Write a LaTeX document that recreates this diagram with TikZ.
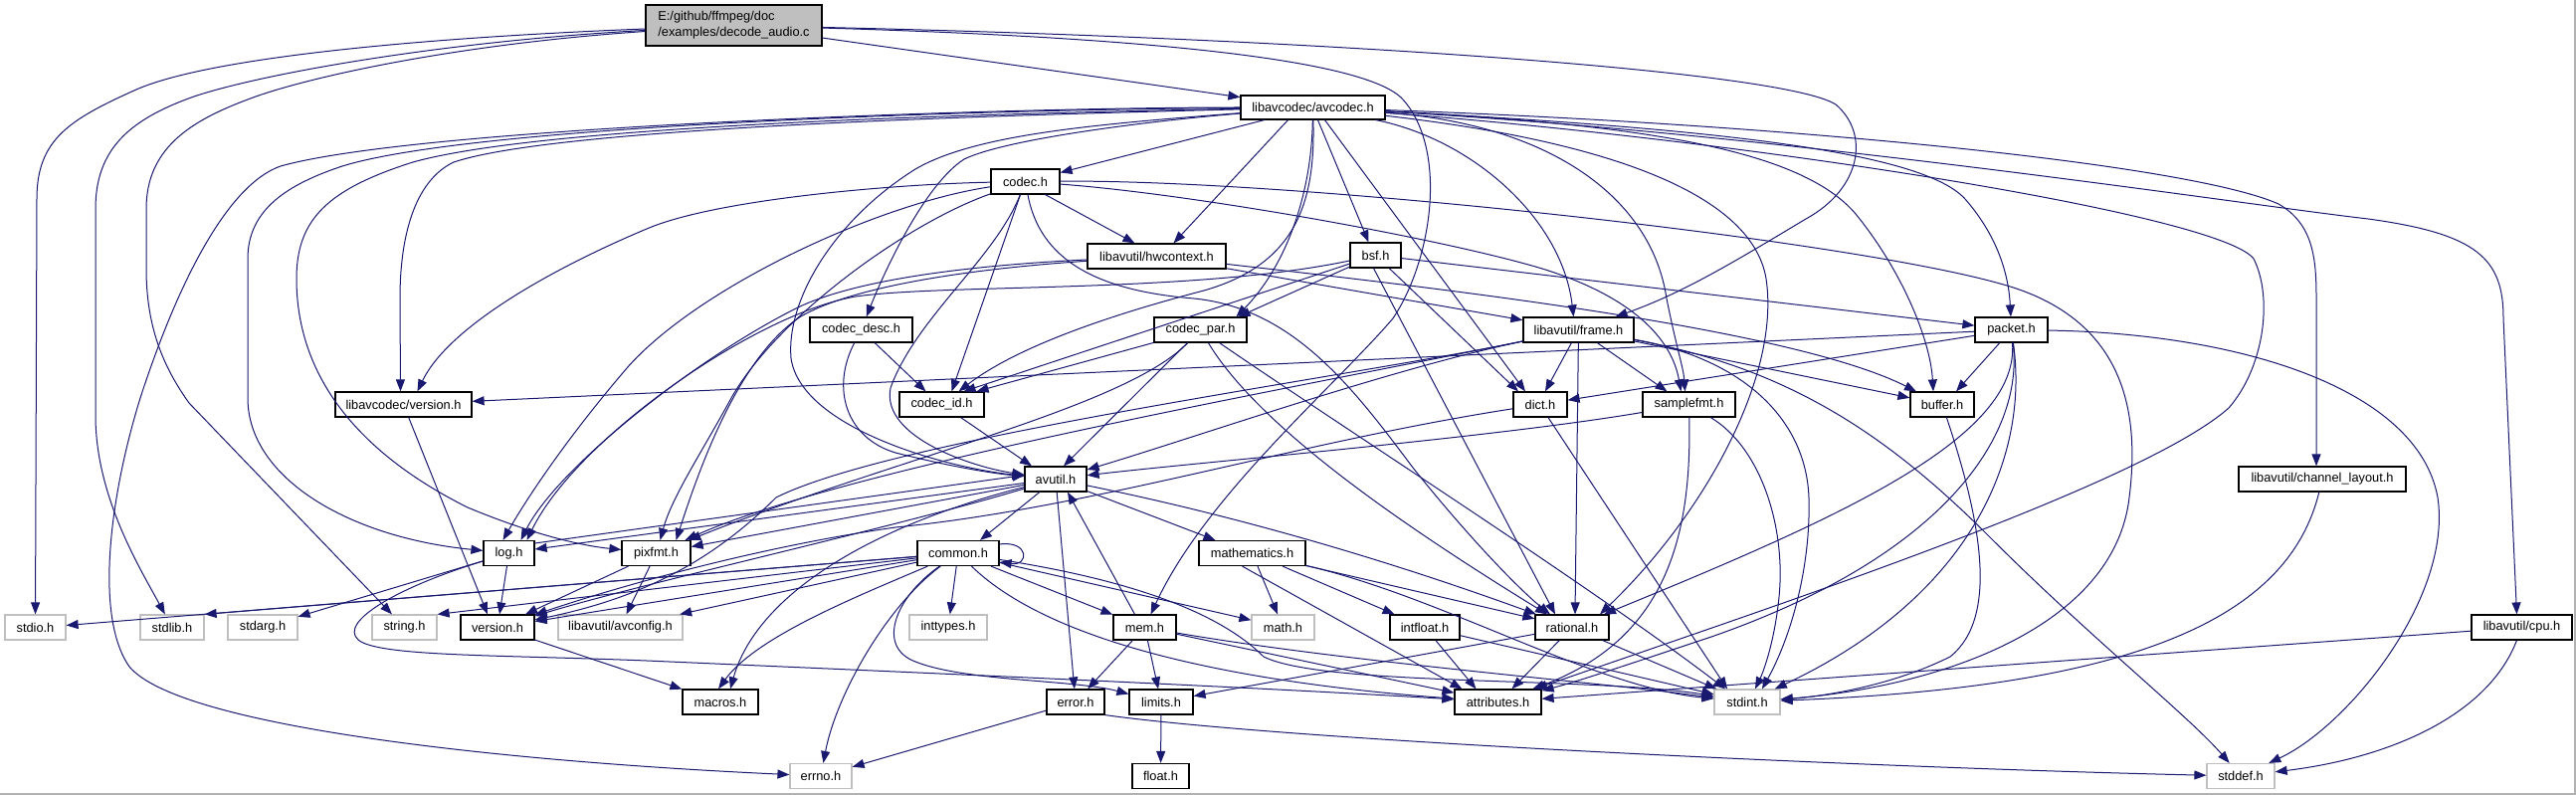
\documentclass[tikz,border=0pt]{standalone}
\usepackage{fontspec}
\setmainfont{Liberation Sans}
\usetikzlibrary{arrows.meta}
\definecolor{edgec}{HTML}{191970}
\definecolor{boxgray}{HTML}{BFBFBF}
\newcommand\lblfont{\fontsize{12.8pt}{16pt}\selectfont}
\begin{document}
\begin{tikzpicture}[x=1pt,y=-1pt,
  nb/.style={draw=black, fill=white, line width=1.2pt, inner sep=0pt, minimum height=25pt, font=\lblfont, text=black},
  ng/.style={nb, draw=boxgray},
  edg/.style={draw=edgec, line width=1pt, -{Triangle[length=12pt,width=9pt]}}]
\useasboundingbox (0,0) rectangle (2589,799);
\fill[white] (0,0) rectangle (2589,799);
\draw[color=black!30, line width=1.5pt] (0,798.2) -- (2588.2,798.2) -- (2588.2,0);

% nodes
\node[nb, fill=boxgray, minimum width=177pt, minimum height=41pt, align=left] (D) at (737.5,25.5) {E:/github/ffmpeg/doc\\/examples/decode\_audio.c};
\node[nb, minimum width=145pt, minimum height=24pt] (AC) at (1319.5,108) {libavcodec/avcodec.h};
\node[nb, minimum width=69pt] (codec) at (1030.5,182.5) {codec.h};
\node[nb, minimum width=139pt] (hwctx) at (1162.5,257.5) {libavutil/hwcontext.h};
\node[nb, minimum width=51pt] (bsf) at (1382.5,256.5) {bsf.h};
\node[nb, minimum width=103pt] (cdesc) at (865.5,331.5) {codec\_desc.h};
\node[nb, minimum width=93pt] (cpar) at (1206.5,331.5) {codec\_par.h};
\node[nb, minimum width=111pt] (frame) at (1586.5,331.5) {libavutil/frame.h};
\node[nb, minimum width=73pt] (packet) at (2021.5,331.5) {packet.h};
\node[nb, minimum width=137pt] (lavcver) at (405.5,406.5) {libavcodec/version.h};
\node[nb, minimum width=85pt] (cid) at (946.5,406.5) {codec\_id.h};
\node[nb, minimum width=54pt] (dict) at (1548,406.5) {dict.h};
\node[nb, minimum width=93pt] (sfmt) at (1697.5,406.5) {samplefmt.h};
\node[nb, minimum width=64pt] (buffer) at (1952,406.5) {buffer.h};
\node[nb, minimum width=62pt] (avutil) at (1061,481.5) {avutil.h};
\node[nb, minimum width=168pt] (chlay) at (2334,481.5) {libavutil/channel\_layout.h};
\node[nb, minimum width=51pt] (log) at (511.5,556) {log.h};
\node[nb, minimum width=69pt] (pixfmt) at (659.5,556) {pixfmt.h};
\node[nb, minimum width=82pt] (common) at (963,556) {common.h};
\node[nb, minimum width=107pt] (mathem) at (1258.5,556) {mathematics.h};
\node[ng, minimum width=61pt] (stdio) at (35.5,630.5) {stdio.h};
\node[ng, minimum width=64pt] (stdlib) at (173,630.5) {stdlib.h};
\node[ng, minimum width=70pt] (stdarg) at (264,630.5) {stdarg.h};
\node[ng, minimum width=65pt] (string) at (406.5,630.5) {string.h};
\node[nb, minimum width=74pt] (version) at (500,630.5) {version.h};
\node[ng, minimum width=125pt] (avconfig) at (623.5,630.5) {libavutil/avconfig.h};
\node[ng, minimum width=78pt] (inttypes) at (953,630.5) {inttypes.h};
\node[nb, minimum width=63pt] (mem) at (1150.5,630.5) {mem.h};
\node[ng, minimum width=63pt] (mathh) at (1289.5,630.5) {math.h};
\node[nb, minimum width=70pt] (intfloat) at (1432,630.5) {intfloat.h};
\node[nb, minimum width=74pt] (rational) at (1580,630.5) {rational.h};
\node[nb, minimum width=101pt] (cpu) at (2534.5,630.5) {libavutil/cpu.h};
\node[nb, minimum width=76pt] (macros) at (724,705.5) {macros.h};
\node[nb, minimum width=58pt] (error) at (1081,705.5) {error.h};
\node[nb, minimum width=64pt] (limits) at (1167,705.5) {limits.h};
\node[nb, minimum width=87pt] (attrib) at (1505.5,705.5) {attributes.h};
\node[ng, minimum width=66pt] (stdint) at (1756,705.5) {stdint.h};
\node[ng, minimum width=62pt] (errno) at (825,780) {errno.h};
\node[nb, minimum width=57pt] (floath) at (1166.5,780) {float.h};
\node[ng, minimum width=68pt] (stddef) at (2252,780) {stddef.h};

% decode_audio.c
\draw[edg] (D) .. controls (420,38) and (210,58) .. (137,90) .. controls (70,120) and (37,140) .. (37,200) -- (stdio);
\draw[edg] (D) .. controls (440,42) and (260,75) .. (195,97) .. controls (130,120) and (96,150) .. (96,210) -- (96,420) .. controls (97,500) and (140,570) .. (stdlib);
\draw[edg] (D) .. controls (450,45) and (300,80) .. (249,100) .. controls (190,122) and (147,150) .. (147,210) -- (147,270) .. controls (147,330) and (165,370) .. (190,405) -- (string);
\draw[edg] (D) -- (AC);
\draw[edg] (D) .. controls (1100,36) and (1370,55) .. (1410,100) .. controls (1455,150) and (1440,260) .. (1400,320) .. controls (1340,390) and (1212,498) .. (mem);
\draw[edg] (D) .. controls (1300,38) and (1790,70) .. (1845,105) .. controls (1880,135) and (1870,190) .. (1815,220) .. controls (1740,265) and (1690,295) .. (frame);

% avcodec.h
\draw[edg] (AC) -- (codec);
\draw[edg] ([xshift=-25]AC.south) -- ([xshift=17]hwctx.north);
\draw[edg] ([xshift=5]AC.south) -- ([xshift=-7]bsf.north);
\draw[edg] (AC) .. controls (1150,122) and (1010,140) .. (969,160) .. controls (930,185) and (890,270) .. (cdesc);
\draw[edg] (AC) .. controls (1100,125) and (980,135) .. (920,170) .. controls (840,220) and (790,300) .. (795,360) .. controls (805,430) and (950,470) .. (avutil);
\draw[edg] (AC) .. controls (1318,200) and (1290,270) .. ([xshift=36]cpar.north);
\draw[edg] (AC) .. controls (1322,200) and (1305,265) .. (1210,292) .. controls (1110,318) and (1020,350) .. (cid);
\draw[edg] (AC) .. controls (1480,140) and (1570,220) .. ([xshift=-5]frame.north);
\draw[edg] ([xshift=12]AC.south) -- ([xshift=-15]dict.north);
\draw[edg] (AC) .. controls (1560,125) and (1660,200) .. (1675,300) .. controls (1685,350) and (1692,370) .. ([xshift=-4]sfmt.north);
\draw[edg] (AC) .. controls (1650,125) and (1810,150) .. (1865,215) .. controls (1910,270) and (1940,340) .. ([xshift=-9]buffer.north);
\draw[edg] (AC) .. controls (1700,128) and (1930,150) .. (1975,200) .. controls (2010,240) and (2019,280) .. (packet);
\draw[edg] (AC) .. controls (1800,125) and (2200,165) .. (2290,205) .. controls (2325,225) and (2328,260) .. (2328,300) -- ([xshift=-6]chlay.north);
\draw[edg] (AC) .. controls (1800,135) and (2250,205) .. (2380,220) .. controls (2490,235) and (2516,260) .. (2516,320) -- ([xshift=-5]cpu.north);
\draw[edg] (AC) .. controls (1750,140) and (2230,215) .. (2265,260) .. controls (2285,300) and (2275,370) .. (2240,410) .. controls (2150,490) and (1750,620) .. (attrib);
\draw[edg] (AC) .. controls (1600,140) and (1760,190) .. (1775,280) .. controls (1790,380) and (1710,520) .. ([xshift=28]rational.north);
\draw[edg] (AC) .. controls (1000,110) and (480,125) .. (344,167) .. controls (290,185) and (249,210) .. (249,260) -- (249,400) .. controls (249,480) and (350,540) .. (log);
\draw[edg] (AC) .. controls (1000,114) and (550,125) .. (415,163) .. controls (330,190) and (298,220) .. (298,280) .. controls (298,370) and (350,450) .. (470,510) .. controls (530,535) and (580,548) .. (pixfmt);
\draw[edg] (AC) .. controls (1000,116) and (560,128) .. (456,163) .. controls (420,180) and (402,230) .. (402,300) -- ([xshift=-3]lavcver.north);
\draw[edg] (AC) .. controls (1000,108) and (420,128) .. (282,167) .. controls (230,185) and (180,280) .. (141,400) .. controls (110,500) and (95,620) .. (130,670) .. controls (180,730) and (500,765) .. (errno);

% codec.h
\draw[edg] ([xshift=20]codec.south) -- ([xshift=-22]hwctx.north);
\draw[edg] ([xshift=-5]codec.south) -- ([xshift=10]cid.north);
\draw[edg] (codec) .. controls (1000,260) and (920,320) .. (895,390) .. controls (885,440) and (980,470) .. (avutil);
\draw[edg] (codec) .. controls (900,185) and (720,200) .. (650,230) .. controls (550,272) and (450,330) .. ([xshift=14]lavcver.north);
\draw[edg] (codec) .. controls (880,205) and (700,290) .. (630,370) .. controls (570,440) and (530,500) .. ([xshift=-6]log.north);
\draw[edg] (codec) .. controls (910,225) and (780,320) .. (735,400) .. controls (705,455) and (675,500) .. ([xshift=4]pixfmt.north);
\draw[edg] (codec) .. controls (1045,260) and (1100,292) .. (1200,300) .. controls (1300,310) and (1360,390) .. (1420,470) .. controls (1480,545) and (1530,595) .. ([xshift=-22]rational.north);
\draw[edg] (codec) .. controls (1200,195) and (1450,240) .. (1550,270) .. controls (1640,298) and (1680,340) .. ([xshift=-8]sfmt.north);
\draw[edg] (codec) .. controls (1300,180) and (1850,240) .. (2010,285) .. controls (2140,320) and (2150,420) .. (2140,500) .. controls (2125,630) and (1950,690) .. (stdint);

% hwcontext.h
\draw[edg] (hwctx) -- (frame);
\draw[edg] (hwctx) .. controls (1450,290) and (1800,330) .. (buffer);
\draw[edg] (hwctx) .. controls (950,268) and (850,285) .. (800,310) .. controls (700,360) and (560,470) .. ([xshift=12]log.north);
\draw[edg] (hwctx) .. controls (950,272) and (850,292) .. (805,318) .. controls (740,360) and (700,480) .. ([xshift=20]pixfmt.north);

% bsf.h
\draw[edg] (bsf) -- (packet);
\draw[edg] (bsf) -- ([xshift=-22]dict.north);
\draw[edg] ([xshift=-2]bsf.south) -- ([xshift=-17]rational.north);
\draw[edg] (bsf) -- ([xshift=22]cid.north);
\draw[edg] (bsf) -- ([xshift=38]cpar.north);
\draw[edg] (bsf) .. controls (1200,295) and (950,285) .. (860,298) .. controls (760,315) and (580,440) .. ([xshift=18]log.north);

% codec_desc.h, codec_id.h, codec_par.h
\draw[edg] (cdesc) -- ([xshift=-16]cid.north);
\draw[edg] (cdesc) .. controls (835,390) and (850,440) .. (900,455) .. controls (960,470) and (1000,476) .. (avutil);
\draw[edg] (cid) -- ([xshift=-24]avutil.north);
\draw[edg] (cpar) -- ([xshift=35]cid.north);
\draw[edg] (cpar) -- ([xshift=8]avutil.north);
\draw[edg] (cpar) .. controls (1260,420) and (1380,510) .. ([xshift=-25]rational.north);
\draw[edg] (cpar) .. controls (1350,430) and (1600,590) .. ([xshift=-22]stdint.north);
\draw[edg] (cpar) .. controls (1130,410) and (900,460) .. (pixfmt);

% frame.h
\draw[edg] (frame) -- ([xshift=5]dict.north);
\draw[edg] (frame) -- ([xshift=-22]sfmt.north);
\draw[edg] (frame) -- ([xshift=3]rational.north);
\draw[edg] (frame) -- (buffer);
\draw[edg] (frame) .. controls (1400,370) and (1200,440) .. (avutil);
\draw[edg] (frame) .. controls (1300,390) and (850,470) .. (pixfmt);
\draw[edg] (frame) .. controls (1350,380) and (900,440) .. (780,500) .. controls (720,560) and (650,600) .. (version);
\draw[edg] (frame) .. controls (1750,360) and (1815,420) .. (1818,500) .. controls (1820,570) and (1800,640) .. ([xshift=15]stdint.north);
\draw[edg] (frame) .. controls (1800,370) and (1900,440) .. (2000,540) .. controls (2100,640) and (2200,720) .. (stddef);

% packet.h
\draw[edg] (packet) -- ([xshift=14]buffer.north);
\draw[edg] (packet) -- (dict);
\draw[edg] (packet) -- (lavcver);
\draw[edg] (packet) .. controls (2030,440) and (1850,520) .. (rational);
\draw[edg] (packet) .. controls (2035,440) and (1950,560) .. (1720,640) .. controls (1630,670) and (1585,685) .. (attrib);
\draw[edg] (packet) .. controls (2040,460) and (1980,600) .. (stdint);
\draw[edg] (packet) .. controls (2250,335) and (2430,390) .. (2450,500) .. controls (2465,600) and (2360,730) .. (stddef);

% libavcodec/version.h, dict.h, samplefmt.h, buffer.h
\draw[edg] (lavcver) -- ([xshift=-10]version.north);
\draw[edg] ([xshift=8]dict.south) -- ([xshift=-20]stdint.north);
\draw[edg] (dict) .. controls (1300,445) and (1100,510) .. (900,530) .. controls (760,550) and (620,590) .. (version);
\draw[edg] (sfmt) .. controls (1500,440) and (1200,465) .. (avutil);
\draw[edg] (sfmt) .. controls (1770,450) and (1795,530) .. (1788,600) .. controls (1783,650) and (1770,680) .. ([xshift=8]stdint.north);
\draw[edg] (sfmt) .. controls (1700,530) and (1680,640) .. (attrib);
\draw[edg] (buffer) .. controls (1990,520) and (2010,620) .. (1960,660) .. controls (1900,690) and (1830,700) .. (stdint);

% avutil.h
\draw[edg] (avutil) -- ([xshift=22]common.north);
\draw[edg] (avutil) -- (error);
\draw[edg] (avutil) -- ([xshift=-37]mathem.north);
\draw[edg] (avutil) .. controls (1250,520) and (1400,565) .. (rational);
\draw[edg] (avutil) .. controls (900,530) and (650,585) .. (version);
\draw[edg] (avutil) .. controls (870,530) and (760,600) .. ([xshift=10]macros.north);
\draw[edg] (avutil) -- (pixfmt);
\draw[edg] ([yshift=-4]avutil.west) -- ([yshift=4]log.east);
\draw[edg] ([yshift=10]log.east) -- ([yshift=4]avutil.west);

% common.h
\draw[edg] (common) -- ([yshift=2]stdio.east);
\draw[edg] (common) -- (stdlib.north east);
\draw[edg] (common) -- (string.north east);
\draw[edg] (common) -- (version);
\draw[edg] (common) -- (avconfig);
\draw[edg] (common) .. controls (860,600) and (760,640) .. ([xshift=-2]macros.north);
\draw[edg] (common) .. controls (890,610) and (840,700) .. (errno);
\draw[edg] (common) -- (inttypes);
\draw[edg] (common) .. controls (900,600) and (880,650) .. (920,665) .. controls (970,685) and (1080,683) .. ([yshift=8]limits.west);
\draw[edg] (common) -- (mathh);
\draw[edg] (common) -- (mem);
\draw[edg] (common) .. controls (1070,660) and (1300,690) .. (attrib);
\draw[edg] (common) .. controls (1150,585) and (1230,620) .. (1270,660) .. controls (1330,690) and (1600,680) .. ([yshift=6]stdint.west);
\draw[edg] ([yshift=9]common.east) .. controls +(30,-4) and +(30,4) .. ([yshift=-9]common.east);

% mem.h, error.h, limits.h
\draw[edg] (mem) -- (limits);
\draw[edg] (mem) -- (error);
\draw[edg] ([xshift=-10]mem.north) -- ([xshift=12]avutil.south);
\draw[edg] (mem) -- (attrib);
\draw[edg] (mem) .. controls (1350,665) and (1600,685) .. (stdint);
\draw[edg] (error) -- (errno);
\draw[edg] (error.south east) .. controls (1300,745) and (1900,772) .. (stddef);
\draw[edg] (limits) -- (floath);

% log.h, pixfmt.h, version.h
\draw[edg] (log) -- (stdarg);
\draw[edg] (log) -- (version);
\draw[edg] (log) .. controls (400,590) and (340,625) .. (360,643) .. controls (380,660) and (500,658) .. (650,664) .. controls (900,675) and (1250,690) .. (attrib);
\draw[edg] (pixfmt) -- ([xshift=6]avconfig.north);
\draw[edg] (pixfmt) -- (version);
\draw[edg] (version) -- (macros);

% mathematics.h, intfloat.h, rational.h
\draw[edg] (mathem) -- (mathh);
\draw[edg] (mathem) -- (intfloat);
\draw[edg] ([xshift=-10]mathem.south) -- ([xshift=-36]attrib.north);
\draw[edg] (mathem) -- (rational);
\draw[edg] (mathem) .. controls (1450,600) and (1600,690) .. (stdint);
\draw[edg] (intfloat) -- ([xshift=-22]attrib.north);
\draw[edg] (intfloat) -- (stdint);
\draw[edg] (rational) -- (limits);
\draw[edg] (rational) -- ([xshift=14]attrib.north);
\draw[edg] (rational) -- (stdint);

% channel_layout.h, cpu.h
\draw[edg] (chlay) .. controls (2300,620) and (2150,690) .. (stdint);
\draw[edg] (cpu) .. controls (2500,720) and (2400,762) .. (stddef);
\draw[edg] (cpu) -- (attrib);
\end{tikzpicture}
\end{document}
